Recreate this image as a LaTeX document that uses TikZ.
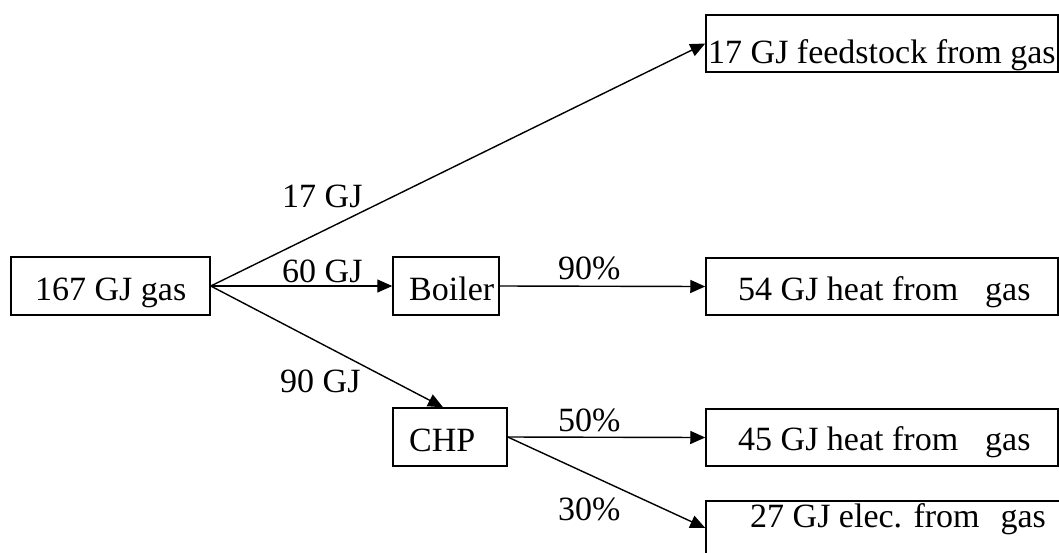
\documentclass[tikz,border=0pt]{standalone}
\usepackage{fontspec}
\setmainfont{Liberation Serif}
\usetikzlibrary{arrows.meta,calc}
\begin{document}
\begin{tikzpicture}[x=1pt,y=-1pt,
  box/.style={draw,line width=1.5pt,rectangle,inner sep=0pt},
  txt/.style={anchor=base west,inner sep=0pt,font=\fontsize{34}{40}\selectfont},
  flow/.style={line width=1.4pt,-{Triangle[length=15pt,width=13pt]}}]
\useasboundingbox (0,0) rectangle (1059,552);
\clip (0,0) rectangle (1059,552);

% boxes
\node[box,minimum width=199pt,minimum height=58pt] (gas) at (110.5,286) {};
\node[box,minimum width=106pt,minimum height=58pt] (boiler) at (446,286) {};
\node[box,minimum width=114pt,minimum height=58pt] (chp) at (450,437) {};
\node[box,minimum width=352pt,minimum height=57pt] (feed) at (882,43.5) {};
\node[box,minimum width=352pt,minimum height=57pt] (heatA) at (882,286.5) {};
\node[box,minimum width=352pt,minimum height=57pt] (heatB) at (882,437.5) {};
\node[box,minimum width=360pt,minimum height=54pt] (elec) at (886,528) {};

% box texts
\node[txt] (tgas) at (35,300) {167 GJ gas};
\node[txt] (tboiler) at (409,300) {Boiler};
\node[txt] (tchp) at (409,451) {CHP};
\node[txt] (tfeed) at (708,63) {17 GJ feedstock from gas};
\node[txt] (theatA) at (738,300) {54 GJ heat from\hspace{27pt}gas};
\node[txt] (theatB) at (738,450) {45 GJ heat from\hspace{27pt}gas};
\node[txt] (telec) at (750,527) {27 GJ elec. from\hspace{21pt}gas};

% flows
\coordinate (chpin) at ($(chp.north)+(-7,0)$);
\draw[flow] (gas.east) -- (feed.west);
\draw[flow] (gas.east) -- (boiler.west);
\draw[flow] (gas.east) -- (chpin);
\draw[flow] (boiler.east) -- (heatA.west);
\draw[flow] (chp.east) -- (heatB.west);
\draw[flow] (chp.east) -- (elec.west);

% flow labels
\node[txt] (l17) at (282,207) {17 GJ};
\node[txt] (l60) at (282,282) {60 GJ};
\node[txt] (l90) at (280,392) {90 GJ};
\node[txt] (p90) at (558,279) {90\%};
\node[txt] (p50) at (558,431) {50\%};
\node[txt] (p30) at (558,520) {30\%};
\end{tikzpicture}
\end{document}
